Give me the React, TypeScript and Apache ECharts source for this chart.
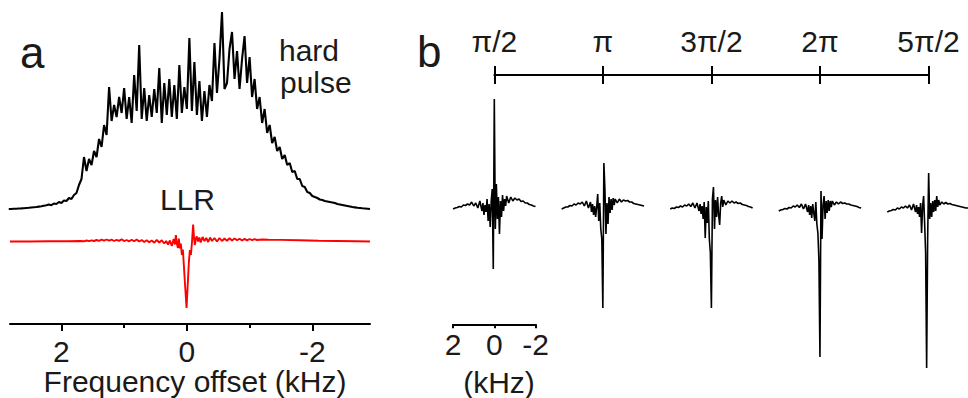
import React, { useEffect, useRef } from "react";
import * as echarts from "echarts";

// ---------- Panel a: frequency-swept spectra (kHz, relative intensity a.u.) ----------
const hardStartKHz = 2.84;
const hardStepKHz = 0.04;
const hardPulse = [
  0, 0, 0.3, 0.3, 0.5, 0.6, 0.8, 1, 1.2, 1.5,
  1.8, 2, 2.4, 2.8, 3.3, 3.8, 4.5, 3.8, 5.5, 5,
  7, 6, 8.5, 8, 11, 10, 14, 16, 24, 30,
  52, 38, 50, 44, 58, 52, 70, 62, 84, 74,
  122, 88, 104, 92, 112, 96, 121, 90, 112, 86,
  134, 98, 164, 90, 121, 88, 114, 92, 120, 96,
  141, 86, 126, 94, 130, 92, 124, 90, 144, 96,
  122, 100, 171, 98, 147, 94, 128, 88, 118, 92,
  124, 108, 166, 116, 150, 197, 120, 126, 160, 177,
  130, 158, 120, 150, 173, 126, 152, 112, 130, 100,
  112, 86, 100, 76, 84, 66, 72, 58, 62, 50,
  54, 44, 46, 37, 38, 30, 30, 23, 22, 17,
  16, 13, 12, 11, 9.5, 9, 8, 7.5, 7, 6.5,
  6, 5, 4.5, 4, 3.5, 3, 2.5, 2, 1.6, 1.2,
  1, 0.7, 0.5, 0.3, 0,
];

const llrFreq = [
  2.82, 2.5, 2.2, 1.9, 1.7, 1.64, 1.6, 1.56, 1.52, 1.48, 1.44, 1.4, 1.36, 1.32, 1.28, 1.24,
  1.2, 1.16, 1.12, 1.08, 1.04, 1.0, 0.96, 0.92, 0.88, 0.84, 0.8, 0.76, 0.72, 0.68, 0.64, 0.6,
  0.56, 0.52, 0.48, 0.44, 0.4, 0.36, 0.33, 0.3, 0.27, 0.24, 0.21, 0.19, 0.175, 0.16, 0.143,
  0.128, 0.112, 0.096, 0.08, 0.064, 0.048, 0.032, 0.005, -0.016, -0.032, -0.048, -0.064,
  -0.08, -0.1, -0.115, -0.127, -0.145, -0.159, -0.18, -0.2, -0.22, -0.25, -0.28, -0.31,
  -0.34, -0.37, -0.4, -0.44, -0.48, -0.52, -0.56, -0.6, -0.64, -0.68, -0.72, -0.76, -0.8,
  -0.84, -0.88, -0.92, -0.96, -1.0, -1.04, -1.08, -1.12, -1.2, -1.3, -1.5, -1.8, -2.1,
  -2.4, -2.7, -2.92,
];
const llrValue = [
  0, 0, 0.2, 0.3, 0.5, 0.2, 1, 0.3, 1.2, 0.5, 1.5, 0.6, 1.8, 0.8, 2, 0.9,
  1.8, 0.5, 1.6, 0.6, 2.2, 0.4, 1.5, 0.2, 1.8, 0.3, 2, 0, 1.5, -0.5, 1.2, -0.8,
  1, -1.2, 1.5, -1, 1.2, -2, 0.5, -3, 1, -4.5, 2.5, -3, 6.5, -2, -6.5,
  3, -7, -2, -13.5, -8, -23.5, -40.5, -66.5, -40.5, -20.5, -8.5, -13.5,
  -2, 17, 3, -3.5, 3, 5, 0, 4, -1, 4.5, 0.5, 3.5,
  -0.5, 4, 0.5, 3.5, 0, 3.5, 0.5, 3, 0.8, 3.2, 1, 3, 1.2,
  2.8, 1, 2.6, 1.2, 2.5, 1.4, 2.4, 1.5, 2, 1.8, 1.6, 1.2, 0.8,
  0.5, 0.2, 0,
];
const aTickValues = [2, 0, -2];
const aMinorTickValues = [1, -1];

// ---------- Panel b: spectra after pulses of increasing flip angle ----------
const phases = [0.5, 1, 1.5, 2, 2.5];
const phaseLabels = ["π/2", "π", "3π/2", "2π", "5π/2"];
const bFreq = [
  2.0, 1.9, 1.8, 1.7, 1.6, 1.5, 1.4, 1.3, 1.2, 1.1, 1.0, 0.9, 0.8, 0.7, 0.6,
  0.55, 0.5, 0.45, 0.4, 0.35, 0.3, 0.25, 0.2, 0.15, 0.1, 0.05, 0, -0.05, -0.1, -0.15,
  -0.2, -0.25, -0.3, -0.35, -0.4, -0.45, -0.5, -0.55,
  -0.6, -0.7, -0.8, -0.9, -1.0, -1.1, -1.2, -1.3, -1.4, -1.5, -1.6, -1.7, -1.8, -1.9, -2.0,
];
const specHalfPi = [
  0, 1, 1.5, 2.5, 2, 4, 3.5, 5, 4, 7, 3, 6, 1, 8, -2,
  6, -6, 4, -3, 10, -12, 5, -18, 8, 20, -60, 110, -20, 25, -10,
  12, -25, 8, -8, 14, -2, 10, 3,
  13, 6, 12, 8, 11, 9, 10, 7.5, 8, 6, 6, 4.5, 4, 3, 2.5,
];
const specPi = [
  0, 1, 2, 2, 3.5, 3, 5, 4, 6, 5, 7, 3, 8, 1, 7,
  -3, 5, -6, 3, -8, 2, 15, -12, 6, -20, -30, -99, 46, 20, -25,
  6, -15, 12, -4, 10, -1, 11, 4,
  10, 6, 10, 7, 9, 8, 8.5, 7, 7, 5.5, 5, 4.5, 4, 3.5, 3,
];
const spec3HalfPi = [
  0, 1, 0.5, 2, 1.5, 3, 2, 4, 3, 5, 2.5, 6, 1, 6, -2,
  5, -5, 3, -10, 7, -29, 2, -14, 8, -30, -44, -99, 10, 22, -20,
  9, -8, 12, -6, -16, 6, 13, 2,
  9, 4, 8, 6, 8, 6, 7, 5.5, 6, 4.5, 4, 3.5, 2.5, 2, 1,
];
const spec2Pi = [
  -2, -1, -0.5, 0.5, 0, 1.5, 1, 3, 2, 4, 1.5, 5, 0, 5, -3,
  4, -6, 3, -9, 5, -4, -12, 7, -15, -24, -51, -148, 18, -30, 4,
  13, -10, 8, -4, 9, -2, 8, 2,
  8, 4, 7, 5, 7, 5.5, 6, 5, 5, 4, 3.5, 3, 2.5, 1.5, 1,
];
const spec5HalfPi = [
  -3, -2, -1.5, -0.5, -1, 1, 0, 2, 1, 3, 1, 4, -1, 5, -3,
  4, -5, 2, -8, 6, -24, 3, 13, -14, -44, -159, -30, 36, -10, 6,
  -8, 8, -3, 9, -2, 13, 2, 9,
  4, 7, 5, 6.5, 5, 5.5, 4.5, 4, 3.5, 3, 2.5, 2, 1.5, 1, 1,
];
const bSpectra = [specHalfPi, specPi, spec3HalfPi, spec2Pi, spec5HalfPi];
const bScaleTicks = [-2, 0, 2];

const FONT = "'Liberation Sans', Arial, Helvetica, sans-serif";
const TEXT = "#1a1a1a";

export default function App() {
  const ref = useRef<HTMLDivElement>(null);

  useEffect(() => {
    if (!ref.current) return;
    const chart = echarts.init(ref.current, undefined, { renderer: "svg" });

    // layout
    const phaseLeft = 494.3;
    const phaseWidth = 434.2;
    const pxPerPhase = phaseWidth / (phases[phases.length - 1] - phases[0]);
    const specHalfWidth = 41.2; // 2 kHz
    const centers = phases.map((p) => phaseLeft + (p - phases[0]) * pxPerPhase);

    const grids: any[] = [
      { left: 10, top: 10, width: 360, height: 314 }, // 0 panel a
      { left: phaseLeft, top: 75, width: phaseWidth, height: 1 }, // 1 phase axis
      { left: centers[0] - specHalfWidth, top: 300, width: specHalfWidth * 2, height: 24.3 }, // 2 scale bar
    ];
    centers.forEach((c) => {
      grids.push({ left: c - specHalfWidth, top: 90, width: specHalfWidth * 2, height: 280 });
    });

    const xAxes: any[] = [
      {
        gridIndex: 0,
        type: "value",
        min: -2.92,
        max: 2.82,
        inverse: true,
        position: "bottom",
        axisLine: { onZero: false, lineStyle: { color: "#000", width: 2 } },
        axisTick: { customValues: aTickValues, length: 7, lineStyle: { color: "#000", width: 2 } },
        axisLabel: {
          customValues: aTickValues,
          fontSize: 30,
          fontFamily: FONT,
          color: TEXT,
          margin: 12,
        },
        splitLine: { show: false },
      },
      {
        gridIndex: 0,
        type: "value",
        min: -2.92,
        max: 2.82,
        inverse: true,
        position: "bottom",
        axisLine: { show: false, onZero: false },
        axisTick: { customValues: aMinorTickValues, length: 4, lineStyle: { color: "#000", width: 2 } },
        axisLabel: { show: false },
        splitLine: { show: false },
      },
      {
        gridIndex: 1,
        type: "value",
        min: phases[0],
        max: phases[phases.length - 1],
        interval: 0.5,
        position: "top",
        axisLine: { onZero: false, lineStyle: { color: "#000", width: 2 } },
        axisTick: { length: 9, lineStyle: { color: "#000", width: 2 } },
        axisLabel: {
          fontSize: 30,
          fontFamily: FONT,
          color: TEXT,
          margin: 19,
          showMinLabel: true,
          showMaxLabel: true,
          formatter: (v: number) => {
            const i = phases.findIndex((p) => Math.abs(p - v) < 1e-6);
            return i >= 0 ? phaseLabels[i] : "";
          },
        },
        splitLine: { show: false },
      },
      {
        gridIndex: 1,
        type: "value",
        min: phases[0],
        max: phases[phases.length - 1],
        interval: 0.5,
        position: "top",
        axisLine: { show: false, onZero: false },
        axisTick: { inside: true, length: 9, lineStyle: { color: "#000", width: 2 } },
        axisLabel: { show: false },
        splitLine: { show: false },
      },
      {
        gridIndex: 2,
        type: "value",
        min: bScaleTicks[0],
        max: bScaleTicks[bScaleTicks.length - 1],
        interval: 2,
        inverse: true,
        position: "bottom",
        axisLine: { onZero: false, lineStyle: { color: "#000", width: 2 } },
        axisTick: { length: 4, lineStyle: { color: "#000", width: 2 } },
        axisLabel: {
          fontSize: 30,
          fontFamily: FONT,
          color: TEXT,
          margin: 5,
          showMinLabel: true,
          showMaxLabel: true,
        },
        splitLine: { show: false },
      },
    ];
    const yAxes: any[] = [
      { gridIndex: 0, type: "value", min: -115, max: 199, show: false },
      { gridIndex: 1, type: "value", min: 0, max: 1, show: false },
      { gridIndex: 2, type: "value", min: 0, max: 1, show: false },
    ];
    const series: any[] = [
      {
        type: "line",
        xAxisIndex: 0,
        yAxisIndex: 0,
        data: hardPulse.map((v, i) => [hardStartKHz - i * hardStepKHz, v]),
        showSymbol: false,
        lineStyle: { color: "#000", width: 2.1 },
        itemStyle: { color: "#000" },
        z: 3,
      },
      {
        type: "line",
        xAxisIndex: 0,
        yAxisIndex: 0,
        data: llrFreq.map((f, i) => [f, llrValue[i] - 32.5]),
        showSymbol: false,
        lineStyle: { color: "#ff0000", width: 1.9 },
        itemStyle: { color: "#ff0000" },
        z: 3,
      },
    ];
    bSpectra.forEach((spec, k) => {
      const xi = xAxes.length;
      const yi = yAxes.length;
      xAxes.push({
        gridIndex: 3 + k,
        type: "value",
        min: -2,
        max: 2,
        inverse: true,
        show: false,
        axisLine: { onZero: false },
      });
      yAxes.push({ gridIndex: 3 + k, type: "value", min: -161, max: 119, show: false });
      series.push({
        type: "line",
        xAxisIndex: xi,
        yAxisIndex: yi,
        data: bFreq.map((f, j) => [f, spec[j]]),
        showSymbol: false,
        clip: false,
        lineStyle: { color: "#000", width: 1.6 },
        itemStyle: { color: "#000" },
      });
    });

    const txt = (text: string, x: number, y: number, size: number, align: string) => ({
      type: "text",
      x,
      y,
      style: {
        text,
        fontSize: size,
        fontFamily: FONT,
        fill: TEXT,
        align,
        verticalAlign: "middle",
        textAlign: align,
        textVerticalAlign: "middle",
      },
    });

    chart.setOption({
      animation: false,
      backgroundColor: "#fff",
      grid: grids,
      xAxis: xAxes,
      yAxis: yAxes,
      series,
      graphic: [
        txt("a", 20, 52, 44, "left"),
        txt("hard", 279, 50, 30, "left"),
        txt("pulse", 280, 82, 30, "left"),
        txt("LLR", 187.5, 199, 30, "center"),
        txt("Frequency offset (kHz)", 195, 381, 30, "center"),
        txt("b", 417, 51, 44, "left"),
        txt("(kHz)", 499, 382, 30, "center"),
      ],
    });

    return () => chart.dispose();
  }, []);

  return (
    <div
      ref={ref}
      style={{ position: "absolute", left: 0, top: 0, width: 968, height: 398 }}
    />
  );
}
